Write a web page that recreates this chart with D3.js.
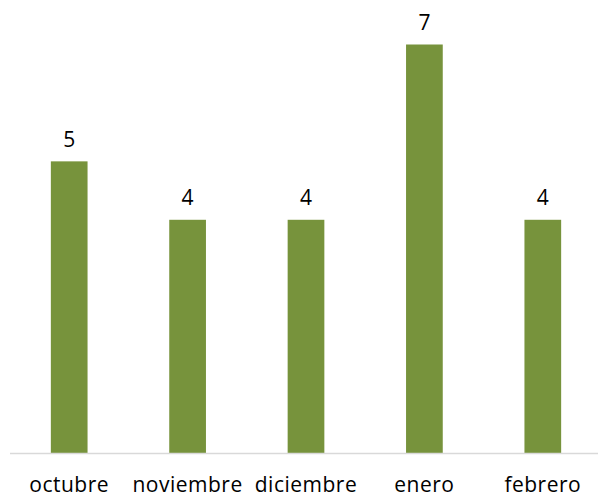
<!DOCTYPE html>
<html><head><meta charset="utf-8">
<script src="https://cdn.jsdelivr.net/npm/d3@7"></script>
<style>body{margin:0;background:#fff}svg{display:block}</style>
</head><body>
<script>
const categories = ["octubre","noviembre","diciembre","enero","febrero"];
const values = [5,4,4,7,4];

const W = 598, H = 496;
const svg = d3.select("body").append("svg").attr("width", W).attr("height", H);
const baseline = 453.5;
const x = d3.scaleBand().domain(categories).range([10, 602]).paddingInner(0.69).paddingOuter(0.345);
const y = d3.scaleLinear().domain([0, 7]).range([baseline, 44.5]);

svg.selectAll("rect.bar").data(values).join("rect")
  .attr("class","bar")
  .attr("x", (d,i) => x(categories[i]))
  .attr("width", x.bandwidth())
  .attr("y", d => y(d))
  .attr("height", d => baseline - y(d))
  .attr("fill", "#77933C");

svg.append("line").attr("x1",10).attr("x2",W).attr("y1",baseline).attr("y2",baseline)
  .attr("stroke","#d9d9d9").attr("stroke-width",1.5);

svg.selectAll("text.val").data(values).join("text")
  .attr("class","val")
  .attr("x",(d,i)=>x(categories[i])+x.bandwidth()/2)
  .attr("y", d => y(d) - 14.5)
  .attr("text-anchor","middle")
  .attr("font-family","'Open Sans', sans-serif")
  .attr("font-size",21)
  .attr("fill","#000")
  .text(d=>d);

svg.selectAll("text.cat").data(categories).join("text")
  .attr("class","cat")
  .attr("x", d => x(d)+x.bandwidth()/2)
  .attr("y", 491.5)
  .attr("text-anchor","middle")
  .attr("font-family","'Open Sans', sans-serif")
  .attr("font-size",21)
  .attr("letter-spacing",0.5)
  .attr("fill","#000")
  .text(d=>d);
</script>
</body></html>
